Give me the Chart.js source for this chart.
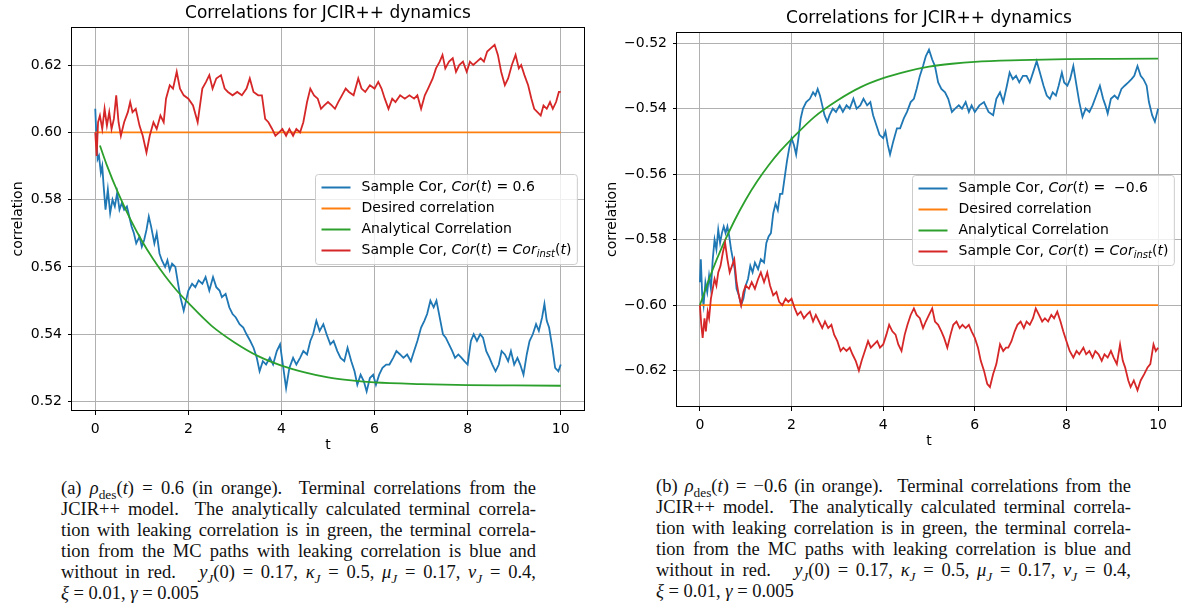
<!DOCTYPE html>
<html>
<head>
<meta charset="utf-8">
<script src="https://cdn.jsdelivr.net/npm/chart.js@4.4.1/dist/chart.umd.min.js"></script>
<style>
  body { margin: 0; width: 1183px; height: 610px; background: #fff; position: relative; overflow: hidden; }
  canvas { position: absolute; top: 0; }
  #corPos { left: 0; }
  #corNeg { left: 600px; }
  .cap { position: absolute; width: 475px; font-family: "Liberation Serif", serif; font-size: 18.5px; color: #111; }
  .cap div { height: 21px; line-height: 21px; text-align: justify; text-align-last: justify; }
  .cap div.last { text-align: left; text-align-last: left; }
  .cap sub { font-size: 0.72em; vertical-align: -0.35em; line-height: 0; }
  #capA { left: 61px; top: 478px; }
  #capB { left: 656px; top: 476px; }
</style>
</head>
<body>
<canvas id="corPos" width="600" height="460"></canvas>
<canvas id="corNeg" width="583" height="460"></canvas>

<div class="cap" id="capA">
  <div>(a) <i>ρ</i><sub>des</sub>(<i>t</i>) = 0.6 (in orange). &nbsp;Terminal correlations from the</div>
  <div>JCIR++ model. &nbsp;The analytically calculated terminal correla-</div>
  <div>tion with leaking correlation is in green, the terminal correla-</div>
  <div>tion from the MC paths with leaking correlation is blue and</div>
  <div>without in red. &nbsp; <i>y<sub>J</sub></i>(0) = 0.17, <i>κ<sub>J</sub></i> = 0.5, <i>μ<sub>J</sub></i> = 0.17, <i>ν<sub>J</sub></i> = 0.4,</div>
  <div class="last"><i>ξ</i> = 0.01, <i>γ</i> = 0.005</div>
</div>
<div class="cap" id="capB">
  <div>(b) <i>ρ</i><sub>des</sub>(<i>t</i>) = −0.6 (in orange). &nbsp;Terminal correlations from the</div>
  <div>JCIR++ model. &nbsp;The analytically calculated terminal correla-</div>
  <div>tion with leaking correlation is in green, the terminal correla-</div>
  <div>tion from the MC paths with leaking correlation is blue and</div>
  <div>without in red. &nbsp; <i>y<sub>J</sub></i>(0) = 0.17, <i>κ<sub>J</sub></i> = 0.5, <i>μ<sub>J</sub></i> = 0.17, <i>ν<sub>J</sub></i> = 0.4,</div>
  <div class="last"><i>ξ</i> = 0.01, <i>γ</i> = 0.005</div>
</div>

<script>
const BLUE = '#1f77b4', ORANGE = '#ff7f0e', GREEN = '#2ca02c', RED = '#d62728';

const xTicks = [0, 2, 4, 6, 8, 10];
const yTicksPos = [0.52, 0.54, 0.56, 0.58, 0.60, 0.62];
const yTicksNeg = [-0.62, -0.60, -0.58, -0.56, -0.54, -0.52];

// ---- (a) desired correlation 0.6 ----
const tBluePos = [0, 0.02, 0.05, 0.08, 0.12, 0.15, 0.18, 0.22, 0.27, 0.32, 0.37, 0.42, 0.47, 0.52, 0.57, 0.62, 0.68, 0.73, 0.78, 0.83,
  0.88, 0.95, 1.0, 1.05, 1.1, 1.15, 1.2, 1.27, 1.32, 1.38, 1.43, 1.5, 1.55, 1.6, 1.65, 1.72, 1.78, 1.83, 1.9, 1.95,
  2.0, 2.08, 2.15, 2.22, 2.3, 2.37, 2.45, 2.53, 2.6, 2.67, 2.72, 2.8, 2.88, 2.95, 3.02, 3.1, 3.18, 3.25, 3.33, 3.4,
  3.47, 3.53, 3.6, 3.67, 3.75, 3.82, 3.9, 3.97, 4.03, 4.1, 4.17, 4.25, 4.32, 4.4, 4.47, 4.55, 4.62, 4.68, 4.75, 4.82,
  4.9, 4.97, 5.05, 5.12, 5.2, 5.27, 5.35, 5.42, 5.5, 5.57, 5.63, 5.7, 5.77, 5.83, 5.9, 5.97, 6.03, 6.1, 6.17, 6.25,
  6.32, 6.4, 6.47, 6.55, 6.62, 6.7, 6.78, 6.85, 6.92, 7.0, 7.07, 7.13, 7.2, 7.27, 7.33, 7.4, 7.47, 7.53, 7.6, 7.67,
  7.73, 7.8, 7.87, 7.93, 8.0, 8.07, 8.13, 8.2, 8.27, 8.33, 8.4, 8.47, 8.53, 8.6, 8.67, 8.73, 8.8, 8.87, 8.93, 9.0,
  9.07, 9.13, 9.2, 9.27, 9.33, 9.4, 9.47, 9.53, 9.6, 9.65, 9.7, 9.75, 9.82, 9.88, 9.95, 10.0];
const bluePos = [0.607, 0.600, 0.592, 0.593, 0.588, 0.590, 0.584, 0.577, 0.583, 0.576, 0.580, 0.578, 0.582, 0.577, 0.579, 0.577, 0.578, 0.575, 0.572, 0.570,
  0.567, 0.569, 0.566, 0.568, 0.571, 0.575, 0.572, 0.567, 0.570, 0.564, 0.562, 0.560, 0.562, 0.559, 0.561, 0.560, 0.555, 0.551, 0.547, 0.550,
  0.553, 0.555, 0.554, 0.556, 0.555, 0.557, 0.553, 0.557, 0.554, 0.553, 0.551, 0.552, 0.548, 0.546, 0.545, 0.543, 0.542, 0.540, 0.538, 0.536,
  0.533, 0.529, 0.532, 0.531, 0.533, 0.531, 0.535, 0.537, 0.531, 0.524, 0.530, 0.533, 0.531, 0.533, 0.535, 0.534, 0.538, 0.540, 0.544, 0.541,
  0.543, 0.540, 0.537, 0.538, 0.535, 0.533, 0.532, 0.536, 0.532, 0.529, 0.525, 0.528, 0.526, 0.523, 0.527, 0.528, 0.525, 0.528, 0.530, 0.531,
  0.531, 0.533, 0.535, 0.534, 0.533, 0.534, 0.532, 0.535, 0.538, 0.542, 0.544, 0.546, 0.550, 0.548, 0.550, 0.545, 0.540, 0.539, 0.537, 0.535,
  0.533, 0.534, 0.533, 0.532, 0.531, 0.538, 0.540, 0.538, 0.540, 0.539, 0.535, 0.533, 0.531, 0.529, 0.531, 0.535, 0.534, 0.532, 0.535, 0.531,
  0.533, 0.531, 0.528, 0.534, 0.538, 0.540, 0.543, 0.541, 0.545, 0.549, 0.544, 0.542, 0.536, 0.530, 0.529, 0.531];

const tRedPos = [0, 0.03, 0.06, 0.1, 0.15, 0.2, 0.25, 0.3, 0.35, 0.4, 0.45, 0.5, 0.55, 0.62, 0.7, 0.75, 0.8, 0.87, 0.95, 1.02,
  1.1, 1.17, 1.25, 1.32, 1.4, 1.47, 1.52, 1.6, 1.67, 1.75, 1.82, 1.9, 2.0, 2.1, 2.2, 2.3, 2.38, 2.45, 2.52, 2.6,
  2.7, 2.78, 2.85, 2.95, 3.05, 3.15, 3.25, 3.32, 3.4, 3.5, 3.58, 3.65, 3.72, 3.8, 3.87, 3.95, 4.02, 4.1, 4.17, 4.25,
  4.32, 4.4, 4.47, 4.55, 4.62, 4.7, 4.78, 4.85, 4.92, 5.0, 5.08, 5.15, 5.22, 5.3, 5.38, 5.45, 5.55, 5.65, 5.72, 5.8,
  5.9, 6.0, 6.08, 6.15, 6.22, 6.3, 6.38, 6.45, 6.55, 6.65, 6.75, 6.85, 6.92, 7.0, 7.08, 7.15, 7.25, 7.32, 7.4, 7.46,
  7.52, 7.6, 7.68, 7.75, 7.82, 7.9, 7.98, 8.05, 8.12, 8.2, 8.28, 8.35, 8.42, 8.5, 8.58, 8.65, 8.72, 8.8, 8.87, 8.95,
  9.03, 9.1, 9.15, 9.22, 9.3, 9.37, 9.43, 9.5, 9.57, 9.63, 9.7, 9.77, 9.83, 9.9, 9.96, 10.0];
const redPos = [0.600, 0.593, 0.603, 0.605, 0.601, 0.607, 0.602, 0.606, 0.601, 0.604, 0.611, 0.603, 0.599, 0.603, 0.606, 0.609, 0.606, 0.607, 0.602, 0.599,
  0.594, 0.599, 0.603, 0.601, 0.605, 0.603, 0.610, 0.614, 0.613, 0.618, 0.613, 0.611, 0.610, 0.608, 0.603, 0.613, 0.615, 0.617, 0.613, 0.616,
  0.617, 0.613, 0.612, 0.611, 0.612, 0.611, 0.613, 0.616, 0.612, 0.611, 0.611, 0.604, 0.603, 0.601, 0.599, 0.600, 0.601, 0.599, 0.601, 0.599,
  0.601, 0.600, 0.603, 0.609, 0.613, 0.611, 0.610, 0.607, 0.608, 0.609, 0.608, 0.607, 0.609, 0.611, 0.613, 0.612, 0.611, 0.616, 0.613, 0.612,
  0.614, 0.613, 0.615, 0.613, 0.610, 0.607, 0.610, 0.609, 0.611, 0.610, 0.611, 0.610, 0.611, 0.607, 0.611, 0.613, 0.616, 0.619, 0.621, 0.623,
  0.619, 0.621, 0.622, 0.618, 0.620, 0.621, 0.618, 0.621, 0.620, 0.621, 0.622, 0.621, 0.624, 0.625, 0.626, 0.623, 0.618, 0.614, 0.616, 0.620,
  0.623, 0.619, 0.620, 0.617, 0.614, 0.610, 0.607, 0.606, 0.605, 0.608, 0.607, 0.609, 0.607, 0.609, 0.612, 0.612];

const tGreenPos = [0.1, 0.25, 0.5, 0.75, 1.0, 1.25, 1.5, 1.75, 2.0, 2.5, 3.0, 3.5, 4.0, 4.5, 5.0, 5.5, 6.0, 7.0, 8.0, 9.0, 10.0];
const greenPos = [0.5961, 0.5902, 0.5817, 0.5743, 0.5678, 0.5622, 0.5573, 0.5530, 0.5493, 0.5425, 0.5375, 0.5335, 0.5307, 0.5287, 0.5272, 0.5263, 0.5257, 0.5252, 0.5249, 0.5248, 0.5247];

const tDesired = [0, 10];
const desiredPos = [0.6, 0.6];

// ---- (b) desired correlation -0.6 ----
const tBlueNeg = [0, 0.02, 0.05, 0.08, 0.12, 0.16, 0.2, 0.24, 0.28, 0.32, 0.36, 0.4, 0.44, 0.48, 0.52, 0.56, 0.6, 0.64, 0.68, 0.72,
  0.76, 0.8, 0.85, 0.9, 0.95, 1.0, 1.05, 1.1, 1.15, 1.2, 1.27, 1.33, 1.4, 1.45, 1.5, 1.55, 1.6, 1.65, 1.7, 1.75,
  1.8, 1.85, 1.9, 1.95, 2.0, 2.05, 2.1, 2.15, 2.2, 2.25, 2.32, 2.4, 2.47, 2.52, 2.57, 2.62, 2.67, 2.72, 2.78, 2.83,
  2.9, 2.97, 3.05, 3.12, 3.2, 3.27, 3.35, 3.42, 3.5, 3.57, 3.65, 3.72, 3.78, 3.85, 3.92, 4.0, 4.05, 4.1, 4.15, 4.22,
  4.3, 4.37, 4.45, 4.52, 4.6, 4.67, 4.73, 4.8, 4.87, 4.93, 5.0, 5.07, 5.13, 5.2, 5.27, 5.35, 5.42, 5.5, 5.57, 5.65,
  5.72, 5.8, 5.87, 5.93, 6.0, 6.1, 6.2, 6.3, 6.4, 6.47, 6.55, 6.62, 6.7, 6.76, 6.83, 6.9, 6.97, 7.05, 7.13, 7.2,
  7.27, 7.35, 7.42, 7.5, 7.57, 7.64, 7.7, 7.77, 7.83, 7.9, 7.95, 8.02, 8.08, 8.15, 8.22, 8.28, 8.35, 8.42, 8.5, 8.57,
  8.65, 8.73, 8.8, 8.85, 8.9, 8.97, 9.05, 9.12, 9.2, 9.27, 9.35, 9.42, 9.48, 9.55, 9.62, 9.68, 9.75, 9.8, 9.87, 9.93, 10.0];
const blueNeg = [-0.593, -0.586, -0.597, -0.600, -0.593, -0.596, -0.591, -0.595, -0.586, -0.580, -0.583, -0.577, -0.581, -0.578, -0.576, -0.578, -0.576, -0.579, -0.583, -0.586,
  -0.589, -0.595, -0.597, -0.600, -0.598, -0.594, -0.592, -0.588, -0.590, -0.587, -0.589, -0.586, -0.587, -0.581, -0.579, -0.578, -0.572, -0.569, -0.571, -0.566,
  -0.566, -0.561, -0.556, -0.552, -0.549, -0.551, -0.554, -0.549, -0.543, -0.540, -0.538, -0.537, -0.535, -0.536, -0.534, -0.536, -0.539, -0.542, -0.544, -0.542,
  -0.540, -0.541, -0.539, -0.541, -0.539, -0.540, -0.537, -0.540, -0.539, -0.537, -0.539, -0.538, -0.542, -0.545, -0.548, -0.549, -0.547, -0.551, -0.554, -0.550,
  -0.546, -0.546, -0.543, -0.541, -0.538, -0.537, -0.534, -0.530, -0.527, -0.524, -0.522, -0.525, -0.527, -0.532, -0.534, -0.535, -0.537, -0.541, -0.540, -0.539,
  -0.540, -0.538, -0.541, -0.539, -0.541, -0.539, -0.538, -0.541, -0.542, -0.537, -0.535, -0.538, -0.533, -0.529, -0.531, -0.530, -0.532, -0.530, -0.530, -0.532,
  -0.529, -0.5255, -0.529, -0.533, -0.536, -0.537, -0.535, -0.536, -0.533, -0.529, -0.532, -0.533, -0.531, -0.527, -0.533, -0.538, -0.5425, -0.540, -0.541, -0.539,
  -0.536, -0.533, -0.537, -0.539, -0.5415, -0.537, -0.536, -0.537, -0.534, -0.533, -0.532, -0.531, -0.530, -0.527, -0.530, -0.531, -0.533, -0.538, -0.542, -0.544, -0.540];

const tRedNeg = [0, 0.03, 0.06, 0.1, 0.13, 0.17, 0.2, 0.24, 0.28, 0.32, 0.36, 0.4, 0.45, 0.5, 0.55, 0.6, 0.65, 0.7, 0.75, 0.8,
  0.85, 0.9, 0.95, 1.0, 1.07, 1.13, 1.2, 1.27, 1.33, 1.4, 1.47, 1.53, 1.6, 1.67, 1.73, 1.8, 1.87, 1.93, 2.0, 2.07,
  2.13, 2.2, 2.27, 2.33, 2.4, 2.47, 2.53, 2.6, 2.67, 2.73, 2.8, 2.87, 2.93, 3.0, 3.07, 3.13, 3.2, 3.27, 3.33, 3.4,
  3.47, 3.53, 3.6, 3.67, 3.73, 3.8, 3.87, 3.93, 4.0, 4.07, 4.13, 4.2, 4.27, 4.33, 4.4, 4.47, 4.53, 4.6, 4.67, 4.73,
  4.8, 4.87, 4.93, 5.0, 5.07, 5.13, 5.2, 5.27, 5.33, 5.4, 5.47, 5.53, 5.6, 5.67, 5.73, 5.8, 5.87, 5.93, 6.0, 6.07,
  6.13, 6.2, 6.27, 6.33, 6.4, 6.47, 6.55, 6.62, 6.68, 6.73, 6.8, 6.87, 6.93, 7.0, 7.07, 7.13, 7.2, 7.27, 7.33, 7.4,
  7.47, 7.53, 7.6, 7.67, 7.73, 7.8, 7.87, 7.93, 8.0, 8.07, 8.15, 8.22, 8.28, 8.37, 8.43, 8.5, 8.57, 8.63, 8.7, 8.77,
  8.83, 8.9, 8.97, 9.03, 9.1, 9.17, 9.23, 9.28, 9.35, 9.4, 9.47, 9.55, 9.62, 9.7, 9.77, 9.83, 9.9, 9.95, 10.0];
const redNeg = [-0.600, -0.606, -0.610, -0.604, -0.608, -0.602, -0.604, -0.598, -0.595, -0.592, -0.594, -0.590, -0.588, -0.584, -0.581, -0.586, -0.590, -0.588, -0.586, -0.593,
  -0.597, -0.600, -0.596, -0.594, -0.595, -0.593, -0.595, -0.592, -0.590, -0.593, -0.590, -0.594, -0.597, -0.596, -0.599, -0.600, -0.598, -0.599, -0.598, -0.601,
  -0.603, -0.602, -0.604, -0.603, -0.602, -0.605, -0.603, -0.605, -0.607, -0.605, -0.607, -0.606, -0.609, -0.611, -0.614, -0.613, -0.614, -0.613, -0.615, -0.617,
  -0.620, -0.617, -0.614, -0.611, -0.613, -0.612, -0.611, -0.613, -0.612, -0.609, -0.606, -0.608, -0.609, -0.612, -0.614, -0.609, -0.606, -0.603, -0.601, -0.603,
  -0.604, -0.607, -0.605, -0.603, -0.601, -0.605, -0.606, -0.608, -0.610, -0.613, -0.609, -0.606, -0.605, -0.607, -0.606, -0.607, -0.606, -0.608, -0.610, -0.613,
  -0.617, -0.620, -0.624, -0.625, -0.621, -0.618, -0.612, -0.614, -0.613, -0.613, -0.611, -0.608, -0.606, -0.605, -0.607, -0.605, -0.606, -0.604, -0.601, -0.603,
  -0.605, -0.604, -0.605, -0.603, -0.604, -0.602, -0.605, -0.608, -0.611, -0.614, -0.616, -0.614, -0.615, -0.613, -0.615, -0.614, -0.616, -0.614, -0.615, -0.617,
  -0.615, -0.616, -0.614, -0.616, -0.618, -0.612, -0.617, -0.619, -0.623, -0.625, -0.623, -0.626, -0.623, -0.621, -0.619, -0.618, -0.612, -0.614, -0.613];

const tGreenNeg = [0, 0.25, 0.5, 0.75, 1.0, 1.25, 1.5, 1.75, 2.0, 2.5, 3.0, 3.5, 4.0, 4.5, 5.0, 5.5, 6.0, 7.0, 8.0, 9.0, 10.0];
const greenNeg = [-0.6000, -0.5902, -0.5817, -0.5743, -0.5678, -0.5622, -0.5573, -0.5530, -0.5493, -0.5425, -0.5375, -0.5335, -0.5307, -0.5287, -0.5272, -0.5263, -0.5257, -0.5252, -0.5249, -0.5248, -0.5247];

const desiredNeg = [-0.6, -0.6];

const titleText = 'Correlations for JCIR++ dynamics';

function pts(ts, vs) {
    return ts.map((t, i) => ({x: t, y: vs[i]}));
}

function series(label, color, data, order, smooth) {
    return {
        label: label,
        data: data,
        borderColor: color,
        backgroundColor: color,
        borderWidth: 1.8,
        pointRadius: 0,
        fill: false,
        order: order,
        tension: smooth ? 0.4 : 0,
        cubicInterpolationMode: smooth ? 'monotone' : 'default'
    };
}

function setFont(ctx, style, size) {
    ctx.font = (style === 'n' ? '' : 'italic ') + size + 'px "DejaVu Sans"';
}

function partsWidth(ctx, parts) {
    let w = 0;
    for (let p of parts) {
        setFont(ctx, p[1], p[1] === 's' ? 10 : 14);
        w += ctx.measureText(p[0]).width;
    }
    return w;
}

// title, frame and legend in the matplotlib look
const framePlugin = {
    id: 'frame',
    afterDatasetsDraw(chart, args, opts) {
        const ctx = chart.ctx, a = chart.chartArea;
        const rows = opts.rows;
        ctx.save();
        const maxW = Math.max(...rows.map(r => partsWidth(ctx, r.parts)));
        const pad = 6, handle = 29, gap = 11, rowH = 21;
        const w = pad * 2 + handle + gap + maxW;
        const h = rowH * rows.length + 6;
        const x = Math.round(a.right - 7 - w) + 0.5;
        const y = Math.round((a.top + a.bottom) / 2 - h / 2) + 0.5;
        ctx.beginPath();
        ctx.roundRect(x, y, w, h, 3);
        ctx.fillStyle = 'rgba(255,255,255,0.8)';
        ctx.fill();
        ctx.strokeStyle = '#cccccc';
        ctx.lineWidth = 1;
        ctx.stroke();
        rows.forEach((r, i) => {
            const cy = y + 13 + i * rowH;
            ctx.beginPath();
            ctx.moveTo(x + pad, cy);
            ctx.lineTo(x + pad + handle, cy);
            ctx.strokeStyle = r.color;
            ctx.lineWidth = 2;
            ctx.stroke();
            let tx = x + pad + handle + gap;
            ctx.fillStyle = '#000';
            ctx.textBaseline = 'middle';
            ctx.textAlign = 'left';
            for (let p of r.parts) {
                const sub = p[1] === 's';
                setFont(ctx, p[1], sub ? 10 : 14);
                ctx.fillText(p[0], tx, cy + (sub ? 3.5 : 0));
                tx += ctx.measureText(p[0]).width;
            }
        });
        ctx.restore();
    },
    afterDraw(chart, args, opts) {
        const ctx = chart.ctx, a = chart.chartArea;
        ctx.save();
        ctx.strokeStyle = '#000';
        ctx.lineWidth = 1;
        ctx.strokeRect(Math.round(a.left) - 0.5, Math.round(a.top) + 0.5, Math.round(a.right - a.left) + 1, Math.round(a.bottom - a.top) - 1);
        ctx.fillStyle = '#000';
        ctx.font = '17px "DejaVu Sans"';
        ctx.textAlign = 'center';
        ctx.textBaseline = 'middle';
        ctx.fillText(titleText, (a.left + a.right) / 2, opts.titleY);
        ctx.restore();
    }
};

function fmtTick(v) {
    const s = Math.abs(v).toFixed(2);
    return v < 0 ? '\u2212' + s : s;
}

function makeChart(id, cfg) {
    const tickFont = {family: 'DejaVu Sans', size: 14};
    return new Chart(document.getElementById(id).getContext('2d'), {
        type: 'line',
        data: {
            datasets: [
                series('Sample Cor', BLUE, cfg.blue, 4, false),
                series('Desired correlation', ORANGE, cfg.desired, 3, false),
                series('Analytical Correlation', GREEN, cfg.green, 2, true),
                series('Sample Cor inst', RED, cfg.red, 1, false)
            ]
        },
        options: {
            responsive: false,
            animation: false,
            events: [],
            layout: {padding: {left: 0, top: cfg.top, right: cfg.right, bottom: 0}},
            plugins: {
                legend: {display: false},
                tooltip: {enabled: false},
                frame: {rows: cfg.rows, titleY: cfg.titleY}
            },
            scales: {
                x: {
                    type: 'linear',
                    min: -0.5,
                    max: 10.5,
                    afterBuildTicks: s => { s.ticks = xTicks.map(v => ({value: v})); },
                    afterFit: s => { s.height = cfg.xHeight; },
                    ticks: {color: '#000', font: tickFont, padding: 6, maxRotation: 0, callback: v => String(v)},
                    grid: {color: '#b0b0b0', lineWidth: 1, tickColor: '#000', tickLength: 4},
                    border: {display: false},
                    title: {display: true, text: 't', color: '#000', font: tickFont, padding: {top: cfg.xTitlePad, bottom: cfg.xTitlePad}}
                },
                y: {
                    type: 'linear',
                    min: cfg.yMin,
                    max: cfg.yMax,
                    afterBuildTicks: s => { s.ticks = cfg.yTicks.map(v => ({value: v})); },
                    afterFit: s => { s.width = cfg.yWidth; },
                    ticks: {color: '#000', font: tickFont, padding: 6, callback: v => fmtTick(v)},
                    grid: {color: '#b0b0b0', lineWidth: 1, tickColor: '#000', tickLength: 4},
                    border: {display: false},
                    title: {display: true, text: 'correlation', color: '#000', font: tickFont, padding: {top: cfg.yTitlePad, bottom: cfg.yTitlePad}}
                }
            }
        },
        plugins: [framePlugin]
    });
}

const rowsPos = [
    {color: BLUE, parts: [['Sample Cor, ', 'n'], ['Cor', 'i'], ['(', 'n'], ['t', 'i'], [') = 0.6', 'n']]},
    {color: ORANGE, parts: [['Desired correlation', 'n']]},
    {color: GREEN, parts: [['Analytical Correlation', 'n']]},
    {color: RED, parts: [['Sample Cor, ', 'n'], ['Cor', 'i'], ['(', 'n'], ['t', 'i'], [') = ', 'n'], ['Cor', 'i'], ['inst', 's'], ['(', 'n'], ['t', 'i'], [')', 'n']]}
];
const rowsNeg = [
    {color: BLUE, parts: [['Sample Cor, ', 'n'], ['Cor', 'i'], ['(', 'n'], ['t', 'i'], [') =  \u22120.6', 'n']]},
    rowsPos[1], rowsPos[2], rowsPos[3]
];

makeChart('corPos', {
    blue: pts(tBluePos, bluePos),
    desired: pts(tDesired, desiredPos),
    green: pts(tGreenPos, greenPos),
    red: pts(tRedPos, redPos),
    rows: rowsPos,
    yTicks: yTicksPos,
    yMin: 0.5172, yMax: 0.6313,
    top: 27, right: 16, xHeight: 49, yWidth: 72,
    titleY: 13.5, xTitlePad: 6, yTitlePad: 10
});

makeChart('corNeg', {
    blue: pts(tBlueNeg, blueNeg),
    desired: pts(tDesired, desiredNeg),
    green: pts(tGreenNeg, greenNeg),
    red: pts(tRedNeg, redNeg),
    rows: rowsNeg,
    yTicks: yTicksNeg,
    yMin: -0.6311, yMax: -0.5166,
    top: 32, right: 2, xHeight: 53, yWidth: 77,
    titleY: 18.5, xTitlePad: 10, yTitlePad: 4
});
</script>
</body>
</html>
